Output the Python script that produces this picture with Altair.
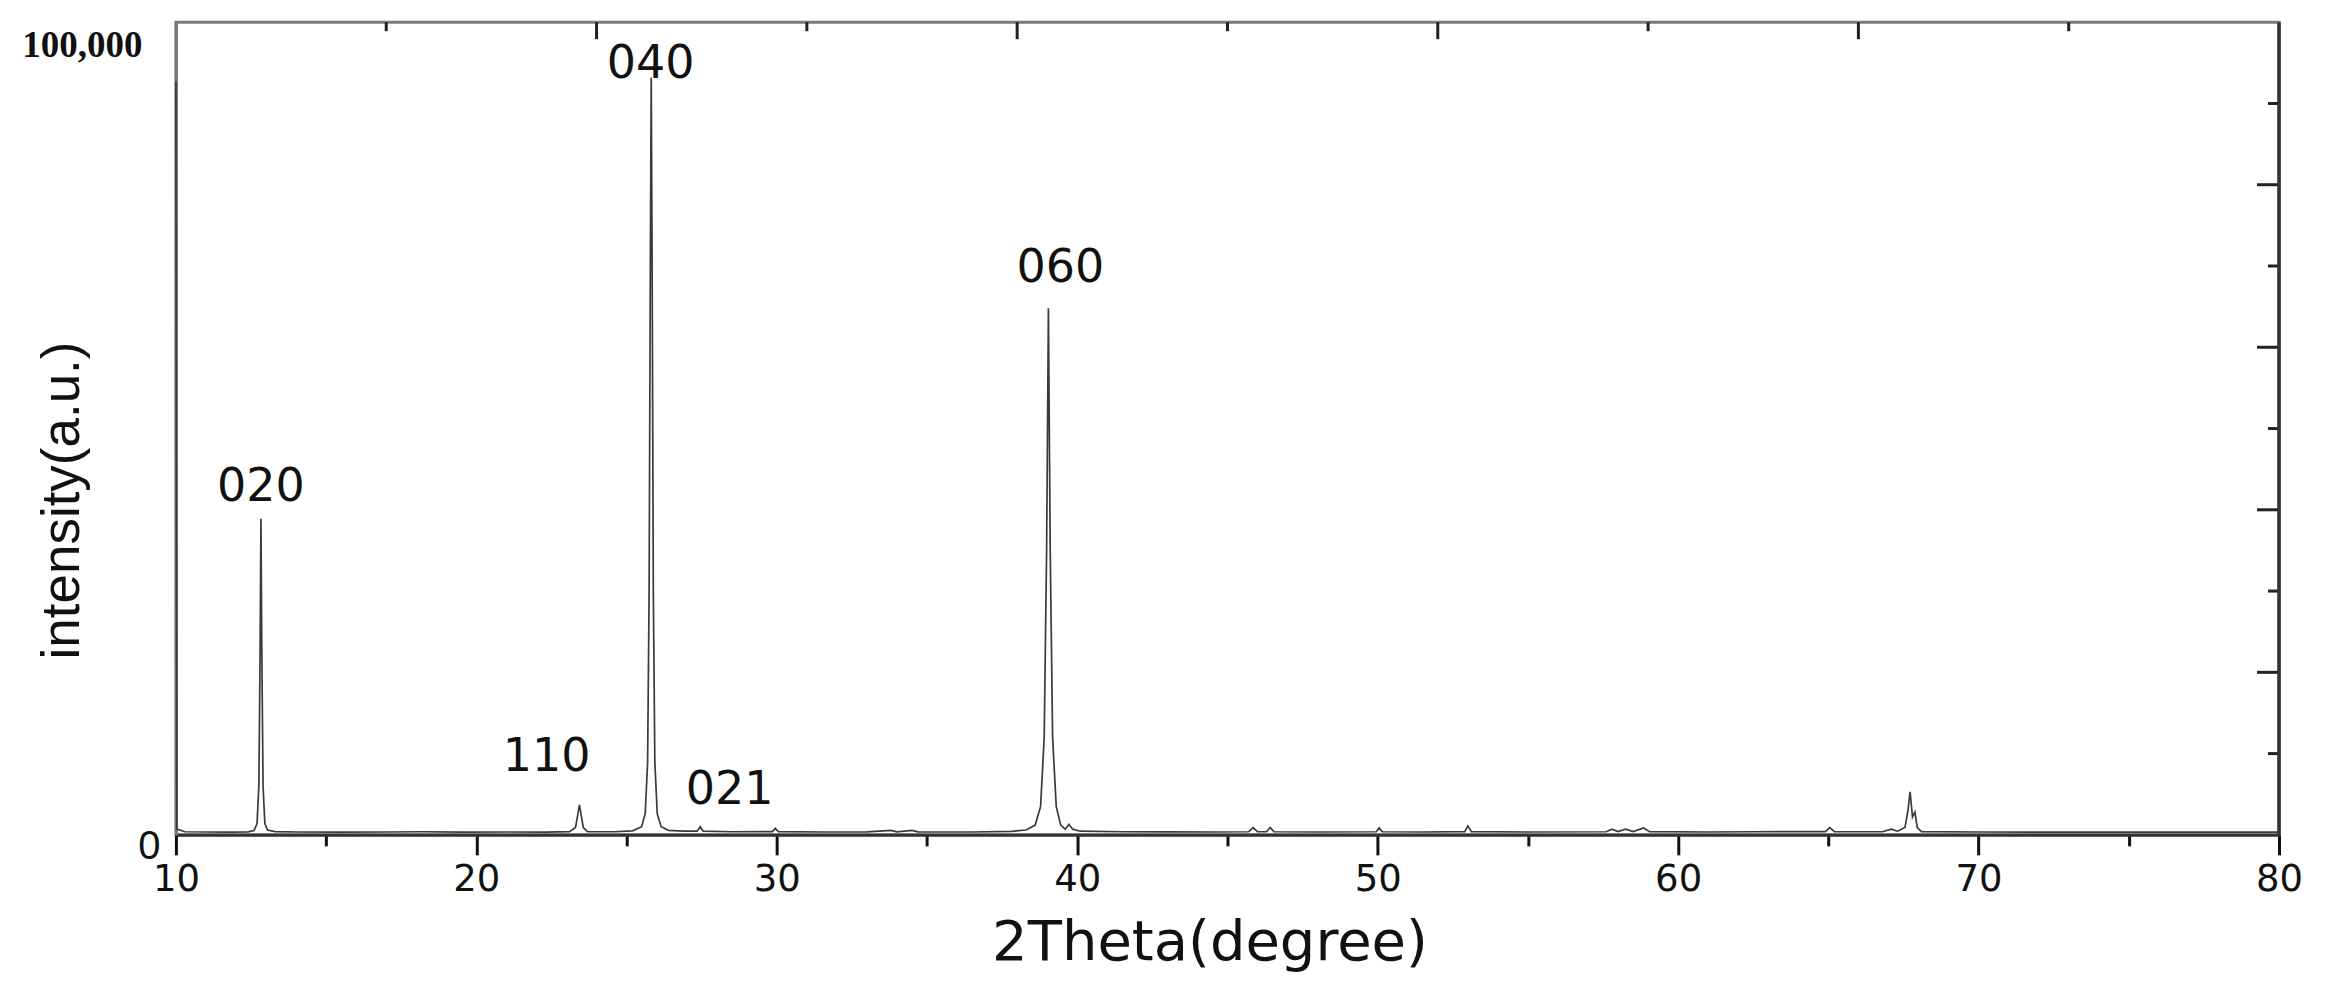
import altair as alt
import pandas as pd

# ---- data ----
two_theta = [10.00, 10.03, 10.3, 11.0, 11.8, 12.4, 12.6, 12.7, 12.76, 12.80, 12.83, 12.86, 12.90, 12.96, 13.05,
             13.3, 14.0, 15.5, 17.0, 18.2, 19.5, 21.0, 22.3, 23.1, 23.3, 23.38, 23.43, 23.48, 23.56, 23.7,
             24.6, 25.2, 25.5, 25.62, 25.70, 25.75, 25.79, 25.82, 25.85, 25.89, 25.94, 26.02, 26.15, 26.4,
             26.9, 27.35, 27.45, 27.55, 28.5, 29.85, 29.95, 30.05, 31.5, 33.0, 33.8, 34.0, 34.5, 34.7, 36.5,
             37.8, 38.3, 38.6, 38.78, 38.9, 38.98, 39.04, 39.10, 39.18, 39.3, 39.45, 39.6, 39.72, 39.85, 40.1,
             41.5, 43.0, 44.5, 45.7, 45.85, 46.0, 46.3, 46.42, 46.55, 48.0, 49.95, 50.05, 50.15, 51.5, 52.9,
             53.0, 53.12, 55.0, 57.6, 57.8, 58.0, 58.25, 58.5, 58.85, 59.05, 61.0, 62.5, 64.9, 65.05, 65.2,
             66.8, 67.1, 67.3, 67.55, 67.65, 67.72, 67.80, 67.88, 67.96, 68.1, 70.0, 72.0, 74.0, 76.0, 78.0, 80.0]
intensity = [92700, 700, 380, 350, 330, 360, 520, 1400, 6000, 22000, 38900, 22000, 6000, 1400, 600,
             400, 350, 330, 350, 380, 330, 350, 340, 400, 900, 2600, 3700, 2600, 900, 400,
             380, 500, 1000, 2600, 9000, 30000, 70000, 93200, 70000, 30000, 9000, 2600, 1000, 550,
             450, 450, 1000, 450, 380, 400, 800, 400, 350, 360, 550, 360, 550, 360, 350,
             420, 600, 1200, 3500, 12000, 35000, 64800, 35000, 12000, 3500, 1200, 700, 1300, 700, 450,
             380, 360, 350, 380, 900, 400, 380, 900, 380, 350, 380, 850, 380, 350, 400,
             1100, 400, 350, 380, 700, 400, 700, 400, 850, 400, 350, 380, 400, 900, 400,
             380, 700, 450, 900, 3000, 5300, 2200, 2800, 900, 400, 350, 330, 340, 330, 340, 330]

peak_labels = ["020", "110", "040", "021", "060"]
peak_label_x = [12.83, 22.34, 25.8, 28.43, 39.44]
peak_label_y = [42800, 9600, 94800, 5540, 69700]

x_tick_values = [10, 15, 20, 25, 30, 35, 40, 45, 50, 55, 60, 65, 70, 75, 80]
y_label_values = [0, 100000]
right_major = [20000, 40000, 60000, 80000]
right_minor = [10000, 30000, 50000, 70000, 90000]
top_long = [24, 38, 52, 66]
top_short = [17, 31, 45, 59, 73]

# ---- layout ----
W, H = 2104, 813

spec = pd.DataFrame({"two_theta": two_theta, "intensity": intensity})
labels_df = pd.DataFrame({"two_theta": peak_label_x, "intensity": peak_label_y, "label": peak_labels})

xs = alt.Scale(domain=[10, 80], nice=False, zero=False)
ys = alt.Scale(domain=[0, 100000], nice=False, zero=True)

is_zero = "datum.value == 0"

x_axis = alt.Axis(
    values=x_tick_values,
    labelExpr="datum.value % 10 == 0 ? datum.label : ''",
    title="2Theta(degree)",
    titleFont="DejaVu Sans", titleFontSize=56, titleFontWeight="normal", titleColor="#111",
    titleX=1034, titleY=108, titleAlign="center", titleBaseline="middle",
    labelFont="DejaVu Sans", labelFontSize=37, labelColor="#111",
    labelPadding=7, labelFlush=False, labelOverlap=False, labelBound=False,
    tickSize={"condition": {"test": "datum.value % 10 == 0", "value": 20}, "value": 11},
    tickWidth=3, tickColor="#111",
    domainColor="#333", domainWidth=3, grid=False,
)

y_axis = alt.Axis(
    values=y_label_values, format=",d",
    title="intensity(a.u.)",
    titleFont="Liberation Sans", titleFontSize=53, titleFontWeight="normal", titleColor="#111",
    titleX=-113, titleY=478, titleAlign="center", titleBaseline="middle",
    ticks=False,
    labelFont={"condition": {"test": is_zero, "value": "Liberation Sans"}, "value": "Liberation Serif"},
    labelFontWeight={"condition": {"test": is_zero, "value": "normal"}, "value": "bold"},
    labelFontSize={"condition": {"test": is_zero, "value": 40}, "value": 37},
    labelPadding={"condition": {"test": is_zero, "value": 16}, "value": 34},
    labelOffset={"condition": {"test": is_zero, "value": 12}, "value": 23},
    labelColor="#111", labelOverlap=False, labelBound=False, labelFlush=False,
    domainColor="#777", domainWidth=3, grid=False,
)

line = alt.Chart(spec).mark_line(color="#3a3a3a", strokeWidth=1.7).encode(
    x=alt.X("two_theta:Q", scale=xs, axis=x_axis),
    y=alt.Y("intensity:Q", scale=ys, axis=y_axis),
)

text = alt.Chart(labels_df).mark_text(
    font="DejaVu Sans", fontSize=46, color="#111", align="center", baseline="middle"
).encode(
    x=alt.X("two_theta:Q", scale=xs),
    y=alt.Y("intensity:Q", scale=ys),
    text="label:N",
)

right_major_rules = alt.Chart(pd.DataFrame({"intensity": right_major})).mark_rule(
    color="#222", strokeWidth=3
).encode(y=alt.Y("intensity:Q", scale=ys), x=alt.value(W - 22), x2=alt.value(W))

right_minor_rules = alt.Chart(pd.DataFrame({"intensity": right_minor})).mark_rule(
    color="#222", strokeWidth=3
).encode(y=alt.Y("intensity:Q", scale=ys), x=alt.value(W - 11), x2=alt.value(W))

top_long_rules = alt.Chart(pd.DataFrame({"two_theta": top_long})).mark_rule(
    color="#222", strokeWidth=3
).encode(x=alt.X("two_theta:Q", scale=xs), y=alt.value(0), y2=alt.value(17))

top_short_rules = alt.Chart(pd.DataFrame({"two_theta": top_short})).mark_rule(
    color="#222", strokeWidth=3
).encode(x=alt.X("two_theta:Q", scale=xs), y=alt.value(0), y2=alt.value(9))

right_frame = alt.Chart(pd.DataFrame({"two_theta": [80]})).mark_rule(
    color="#333", strokeWidth=3.5
).encode(x=alt.value(W), y=alt.value(0), y2=alt.value(H + 1))

chart = alt.layer(
    line, text, right_major_rules, right_minor_rules, top_long_rules, top_short_rules, right_frame
).properties(
    width=W, height=H,
    autosize=alt.AutoSizeParams(type="none"),
    padding={"left": 168, "top": 14, "right": 50, "bottom": 156},
    background="white",
).configure_view(
    stroke="#7a7a7a", strokeWidth=3
)

chart.save("out.html", embed_options={"renderer": "svg", "actions": False})
